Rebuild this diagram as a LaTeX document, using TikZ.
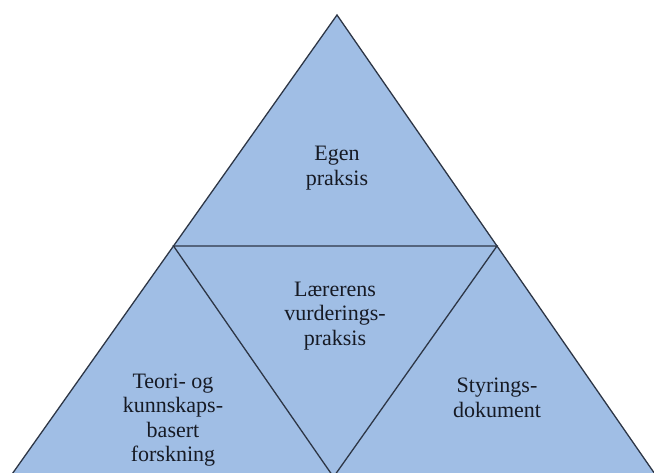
\documentclass[tikz,border=0pt]{standalone}
\usepackage{fontspec}
\setmainfont{Liberation Serif}
\usetikzlibrary{calc}
\definecolor{tfill}{RGB}{160,190,229}
\definecolor{tline}{RGB}{45,54,70}
\definecolor{ttext}{RGB}{22,26,36}
\begin{document}
\begin{tikzpicture}[x=1pt,y=1pt,
  part/.style={fill=tfill,draw=tline,line width=1.3pt,line join=miter},
  lbl/.style={align=center,text=ttext,font=\fontsize{22}{24.5}\selectfont,inner sep=0pt}]
\useasboundingbox (0,0) rectangle (654,472);
\clip (0,0) rectangle (654,472);
\coordinate (A) at (337,457);
\coordinate (BL) at (10,-5);
\coordinate (BR) at (657,-5);
\coordinate (ML) at ($(A)!0.5!(BL)$);
\coordinate (MR) at ($(A)!0.5!(BR)$);
\coordinate (MB) at ($(BL)!0.5!(BR)$);
\draw[part] (A) -- (BL) -- (BR) -- cycle;
\draw[part] (ML) -- (MR) -- (MB) -- cycle;
\node[lbl] (top) at (337,304) {Egen\\praksis};
\node[lbl] (mid) at (335,156) {Lærerens\\vurderings-\\praksis};
\node[lbl] (left) at (173,52) {Teori- og\\kunnskaps-\\basert\\forskning};
\node[lbl] (right) at (497,74) {Styrings-\\dokument};
\end{tikzpicture}
\end{document}
